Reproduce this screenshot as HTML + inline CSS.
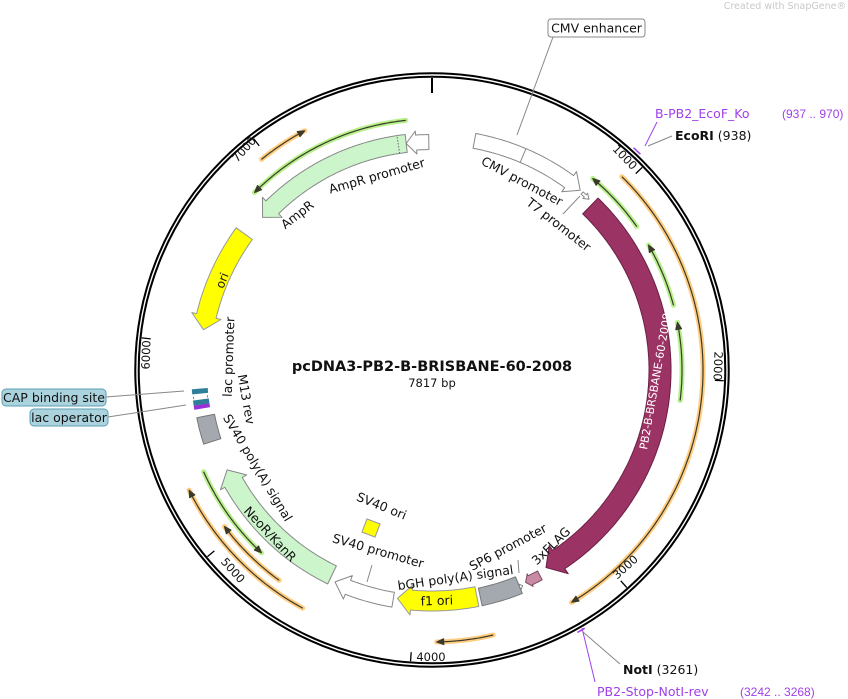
<!DOCTYPE html>
<html><head><meta charset="utf-8">
<style>
html,body{margin:0;padding:0;background:#fff;}
svg{display:block;font-family:"DejaVu Sans","Liberation Sans",sans-serif;}
</style></head>
<body>
<svg id="s" width="848" height="699" viewBox="0 0 848 699" xmlns="http://www.w3.org/2000/svg">
<g id="shapes"></g>
<g id="labels" font-size="12" fill="#111">
  <text x="846" y="9" font-size="9.5" fill="#c8c8c8" text-anchor="end">Created with SnapGene®</text>
  <text x="432" y="371" font-size="14.5" font-weight="bold" text-anchor="middle">pcDNA3-PB2-B-BRISBANE-60-2008</text>
  <text x="432" y="387" font-size="11.5" text-anchor="middle">7817 bp</text>
  <rect x="548" y="19" width="97" height="18" rx="3" fill="#fff" stroke="#888"/>
  <text x="596.5" y="32.5" text-anchor="middle" font-size="12.5">CMV enhancer</text>
  <line x1="553" y1="37" x2="517" y2="135" stroke="#888" stroke-width="1"/>
  <text x="655" y="118" fill="#a040e8" font-size="12.5">B-PB2_EcoF_Ko</text>
  <text x="782" y="118" fill="#a040e8" font-size="12" font-family="Liberation Sans, sans-serif">(937 .. 970)</text>
  <line x1="645" y1="146" x2="657" y2="122" stroke="#a040e8" stroke-width="1"/>
  <text x="675" y="140" font-size="12.5"><tspan font-weight="bold">EcoRI</tspan>  (938)</text>
  <line x1="648" y1="146" x2="672" y2="136" stroke="#888" stroke-width="1"/>
  <text x="623" y="674" font-size="12.5"><tspan font-weight="bold">NotI</tspan>  (3261)</text>
  <line x1="583" y1="632" x2="620" y2="664" stroke="#888" stroke-width="1"/>
  <text x="597" y="696" fill="#a040e8" font-size="12.5">PB2-Stop-NotI-rev</text>
  <text x="740" y="696" fill="#a040e8" font-size="12" font-family="Liberation Sans, sans-serif">(3242 .. 3268)</text>
  <line x1="582" y1="628" x2="595" y2="682" stroke="#a040e8" stroke-width="1"/>
  <rect x="2" y="389" width="104" height="17" rx="4" fill="#aad3de" stroke="#5d9fb3"/>
  <text x="54" y="402" text-anchor="middle" font-size="12.5">CAP binding site</text>
  <line x1="106" y1="397" x2="184" y2="391" stroke="#888"/>
  <rect x="30" y="409" width="78" height="17" rx="4" fill="#aad3de" stroke="#5d9fb3"/>
  <text x="69" y="422" text-anchor="middle" font-size="12.5">lac operator</text>
  <line x1="108" y1="417" x2="186" y2="405" stroke="#888"/>
  <g font-size="12.5">
  <text transform="translate(520,185) rotate(28)" text-anchor="middle">CMV promoter</text>
  <text transform="translate(556,228) rotate(38)" text-anchor="middle">T7 promoter</text>
  <text transform="translate(378,180) rotate(-16)" text-anchor="middle">AmpR promoter</text>
  <text transform="translate(300,218) rotate(-38)" text-anchor="middle">AmpR</text>
  <text transform="translate(233,357) rotate(-88)" text-anchor="middle">lac promoter</text>
  <text transform="translate(242,400) rotate(80)" text-anchor="middle">M13 rev</text>
  <text transform="translate(254,470) rotate(59)" text-anchor="middle">SV40 poly(A) signal</text>
  <text transform="translate(267,537) rotate(47)" text-anchor="middle">NeoR/KanR</text>
  <text transform="translate(380,510) rotate(22)" text-anchor="middle">SV40 ori</text>
  <text transform="translate(377,555) rotate(16)" text-anchor="middle">SV40 promoter</text>
  <text transform="translate(456,582) rotate(-8)" text-anchor="middle">bGH poly(A) signal</text>
  <text transform="translate(510,551) rotate(-28)" text-anchor="middle">SP6 promoter</text>
  <text transform="translate(554,549) rotate(-44)" text-anchor="middle">3xFLAG</text>
  </g>
  <line x1="519" y1="573" x2="518" y2="560" stroke="#888"/>
  <line x1="563" y1="214" x2="580" y2="196" stroke="#888"/>
  <line x1="372" y1="565" x2="367" y2="582" stroke="#888"/>
  <text transform="translate(622,160) rotate(46)" text-anchor="middle" font-size="11.5">1000</text>
  <text transform="translate(714,366) rotate(92)" text-anchor="middle" font-size="11.5">2000</text>
  <text transform="translate(628,570) rotate(-42)" text-anchor="middle" font-size="11.5">3000</text>
  <text x="431" y="661" font-size="11.5" text-anchor="middle">4000</text>
  <text transform="translate(230,573) rotate(48)" text-anchor="middle" font-size="11.5">5000</text>
  <text transform="translate(150,355) rotate(-88)" text-anchor="middle" font-size="11.5">6000</text>
  <text transform="translate(247,152) rotate(-48)" text-anchor="middle" font-size="11.5">7000</text>
</g>
<g id="inner"></g>
</svg>
<script>
(function(){
var cx=432,cy=370,NS="http://www.w3.org/2000/svg";
var G=document.getElementById("shapes"),I=document.getElementById("inner");
function P(a,r){var t=a*Math.PI/180;return [cx+r*Math.sin(t),cy-r*Math.cos(t)];}
function arc(a1,a2,r){var n=Math.max(2,Math.ceil(Math.abs(a2-a1)*2)),o=[];for(var i=0;i<=n;i++){o.push(P(a1+(a2-a1)*i/n,r));}return o;}
function el(tag,at,par){var e=document.createElementNS(NS,tag);for(var k in at)e.setAttribute(k,at[k]);(par||G).appendChild(e);return e;}
function poly(pts,fill,stroke,par){return el("polygon",{points:pts.map(function(p){return p[0].toFixed(1)+","+p[1].toFixed(1)}).join(" "),fill:fill,stroke:stroke,"stroke-width":1,"stroke-linejoin":"round"},par);}
function pl(pts,at,par){at.points=pts.map(function(p){return p[0].toFixed(1)+","+p[1].toFixed(1)}).join(" ");at.fill="none";return el("polyline",at,par);}
function arrow(a1,a2,r,w,fill,stroke,hlpx,ext){
  var s=a2>a1?1:-1;hlpx=hlpx||13;ext=ext===undefined?5:ext;
  var hl=Math.min(hlpx/r*180/Math.PI,Math.abs(a2-a1)*0.7),ab=a2-s*hl;
  var pts=arc(a1,ab,r+w/2);
  pts.push(P(ab,r+w/2+ext),P(a2,r),P(ab,r-w/2-ext));
  pts=pts.concat(arc(ab,a1,r-w/2));
  return poly(pts,fill,stroke);
}
function box(a1,a2,r,w,fill,stroke){return poly(arc(a1,a2,r+w/2).concat(arc(a2,a1,r-w/2)),fill,stroke);}
function primer(a1,a2,r,halo){
  var s=a2>a1?1:-1;
  pl(arc(a1,a2,r),{stroke:halo,"stroke-width":5,"stroke-linecap":"round"});
  var hd=7/r*180/Math.PI,ab=a2-s*hd;
  pl(arc(a1,ab,r),{stroke:"#3a3a2a","stroke-width":1.2});
  poly([P(a2,r),P(ab,r+3),P(ab,r-3)],"#3a3a2a","#3a3a2a");
}
el("circle",{cx:cx,cy:cy,r:295,fill:"none",stroke:"#000","stroke-width":5.5});
el("circle",{cx:cx,cy:cy,r:295,fill:"none",stroke:"#fff","stroke-width":1.4});
for(var k=0;k<8;k++){var a=k*1000/7817*360;var p1=P(a,292),p2=P(a,k==0?277:283);
 el("line",{x1:p1[0],y1:p1[1],x2:p2[0],y2:p2[1],stroke:"#000","stroke-width":k==0?2:1.3});}
pl(arc(42.2,44,300),{stroke:"#a040e8","stroke-width":1.5});
pl(arc(149.4,151,300),{stroke:"#a040e8","stroke-width":1.5});
primer(-6,-45,251,"#b8f08c");
primer(-39,-28,271,"#ffcc80");
primer(55,40,250,"#b8f08c");
primer(75,60,250,"#b8f08c");
primer(97,79,250,"#b8f08c");
primer(44.5,149,271,"#ffcc80");
primer(167,179,272,"#ffcc80");
primer(208.5,243.7,271,"#ffcc80");
primer(216,233,260,"#ffcc80");
primer(246,223,250,"#b8f08c");
arrow(10.5,39.5,233,15,"#fff","#888",14,5);
var d1=P(23,225),d2=P(23,241);el("line",{x1:d1[0],y1:d1[1],x2:d2[0],y2:d2[1],stroke:"#888"});
arrow(40.3,42.6,232,3,"#fff","#888",5,2);
arrow(44,150,228,22,"#9b3465","#6b1f45",15,6);
arrow(152.3,156.2,232,10,"#c98aa5","#7a4a60",5,2);
arrow(159,157.2,234,3,"#fff","#888",3,1.5);
box(158,168,232,18,"#a4a9b0","#777");
arrow(168.8,188.6,231,20,"#ffff00","#999",14,5);
arrow(189.6,204.6,233,15,"#fff","#888",14,5);
arrow(206,244,228,20,"#ccf5cc","#888",14,5);
box(252,258.5,231,18,"#a4a9b0","#777");
box(260.6,261.4,233,15,"#9b30d9","#9b30d9");
box(261.6,262.6,233,15,"#2f7f9a","#2f7f9a");
pl(arc(263,263.6,226),{stroke:"#888","stroke-width":1});
pl(arc(263,263.6,240),{stroke:"#888","stroke-width":1});
box(264.3,265.3,233,15,"#2f7f9a","#2f7f9a");
arrow(-54,-80,232,20,"#ffff00","#999",14,5);
arrow(-6.5,-48,228,18,"#ccf5cc","#888",14,5);
var q1=P(-8.5,219),q2=P(-8.5,237);el("line",{x1:q1[0],y1:q1[1],x2:q2[0],y2:q2[1],stroke:"#666","stroke-dasharray":"1.5,1.5"});
arrow(-0.8,-6.5,228,15,"#fff","#888",10,4);
el("rect",{x:-7,y:-7,width:14,height:14,fill:"#ffff00",stroke:"#999",transform:"translate(371,528) rotate(21)"});
var t=el("text",{transform:"translate(659,382) rotate(-80)","text-anchor":"middle","font-size":"11",fill:"#fff"},I);t.textContent="PB2-B-BRSBANE-60-2008";
t=el("text",{transform:"translate(226,282) rotate(-68)","text-anchor":"middle","font-size":"12",fill:"#111"},I);t.textContent="ori";
t=el("text",{transform:"translate(437,605) rotate(-2)","text-anchor":"middle","font-size":"12.5",fill:"#111"},I);t.textContent="f1 ori";
})();
</script>
</body></html>
